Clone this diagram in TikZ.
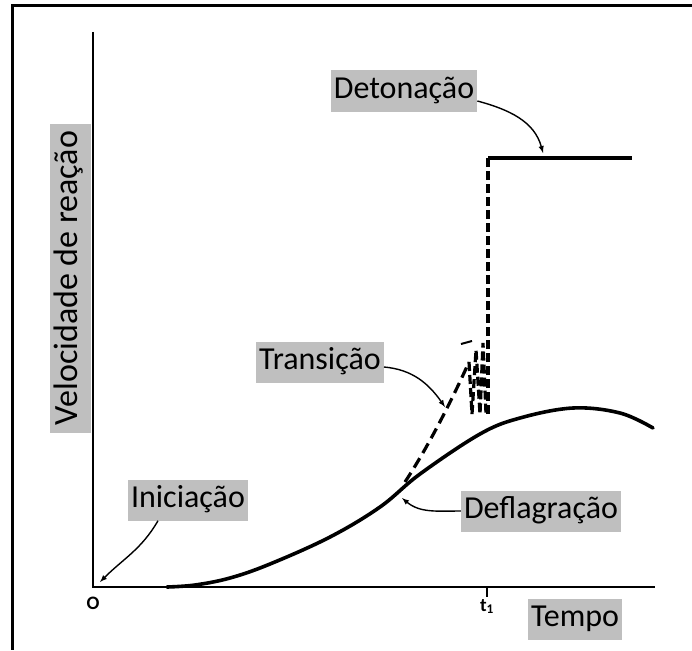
\documentclass[tikz,border=0pt]{standalone}
\usepackage{fontspec}
\setmainfont{Carlito}
\usetikzlibrary{positioning,arrows}
\definecolor{tagGray}{RGB}{191,191,191}

\tikzset{
    tag/.style={fill=tagGray, inner xsep=3pt, inner ysep=5pt, text height=23pt, text depth=8pt, font=\fontsize{32}{36}\selectfont},
    axis/.style={line width=2.8pt, line join=miter},
    curve/.style={line width=3.6pt, line cap=round},
    burst/.style={line width=3.2pt, dash pattern=on 9pt off 4pt},
    pointer/.style={->, line width=1.4pt},
    num/.style={font=\fontsize{19}{20}\selectfont\bfseries, inner sep=0pt},
}

\begin{document}
\begin{tikzpicture}[x=1pt, y=-1pt, >=latex]
    \useasboundingbox (0,0) rectangle (692,650);
    \draw[line width=3pt] (692,6) -- (12,6) -- (12,650);

    % axes
    \coordinate (origin) at (93,587);
    \coordinate (yTop) at (93,32);
    \coordinate (xEnd) at (655,587);
    \coordinate (t1) at (487,587);
    \draw[axis] (yTop) -- (origin) -- (xEnd);
    \draw[line width=1.5pt] (t1) -- ++(0,10);
    \node[num, below=10pt of origin] (oLabel) {O};
    \node[num, below=12pt of t1] (t1Label) {t\textsubscript{1}};

    % deflagration curve
    \draw[curve] plot[smooth, tension=0.6] coordinates {(167,587) (195,585) (230,578) (270,564) (330,537) (380,507) (420,474) (480,434) (520,418) (573,408) (620,413) (653,428)};

    % transition and detonation
    \coordinate (branch) at (405,482);
    \coordinate (jumpTop) at (488,158);
    \coordinate (detEnd) at (632,158);
    \draw[burst, dash pattern=on 11pt off 6pt] (branch) .. controls (428,447) and (452,400) .. (469,362);
    \draw[burst] (469,362) -- (472,414) -- (476,350) -- (480,414) -- (483,343) -- (486,414);
    \draw[burst] (488,414) -- (jumpTop);
    \draw[line width=2pt] (461,344) -- (472,341);
    \draw[curve, line cap=butt] (jumpTop) -- (detEnd);

    % labels
    \node[tag] (detLabel) at (404,91) {Detonação};
    \node[tag] (tranLabel) at (320,362) {Transição};
    \node[tag] (iniLabel) at (188,500) {Iniciação};
    \node[tag] (deflLabel) at (541,511) {Deflagração};
    \node[tag] (tempoLabel) at (575,619) {Tempo};
    \node[tag, rotate=90, font=\fontsize{34}{38}\selectfont, minimum width=309pt] (velLabel) at (70,278) {Velocidade de reação};

    \coordinate (detTip) at (543,153);
    \coordinate (tranTip) at (445,407);
    \coordinate (deflTip) at (402,498);
    \coordinate (iniTip) at (100,582);
    \draw[pointer, out=-15, in=105] (detLabel.east) ++(0,10) to (detTip);
    \draw[pointer, out=-5, in=125] (tranLabel.east) ++(0,5) to (tranTip);
    \draw[pointer, out=180, in=-40] (deflLabel.west) to (deflTip);
    \draw[pointer, out=240, in=45] (iniLabel.south) ++(-30,0) to (iniTip);
\end{tikzpicture}
\end{document}
